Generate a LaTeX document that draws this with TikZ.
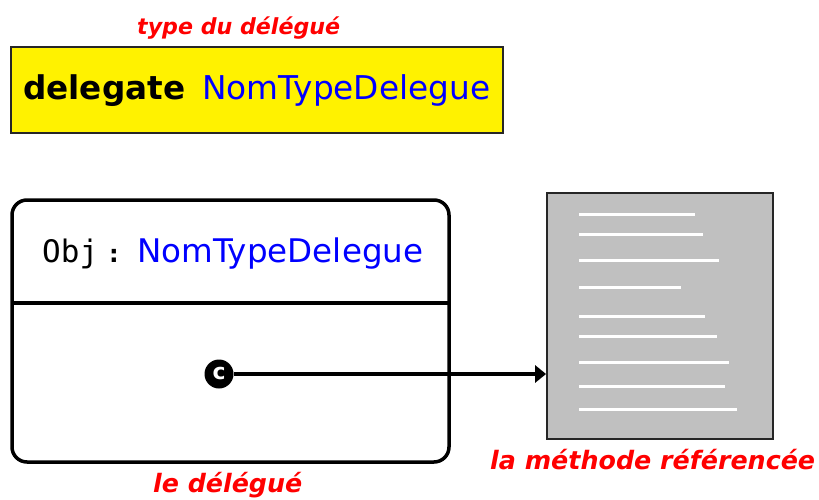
\documentclass[tikz,border=0pt]{standalone}
\usepackage{fontspec}
\usepackage{graphicx}
\setmainfont{DejaVu Sans}
\newfontfamily\monofam{DejaVu Sans Mono}
\usetikzlibrary{arrows.meta}
\definecolor{lblred}{RGB}{255,0,0}
\definecolor{kwblue}{RGB}{0,0,255}
\definecolor{boxgray}{RGB}{192,192,192}
\newcommand\fitw[2]{\resizebox{#1pt}{!}{#2}}
\tikzset{
  lbl/.style={inner sep=0pt, text=lblred, font=\bfseries\itshape},
  wline/.style={draw=white, line width=3pt},
}
\begin{document}
\begin{tikzpicture}[x=1pt,y=-1pt]
\useasboundingbox (0,0) rectangle (819,500);
% type box
\node[lbl, anchor=base west] (typelbl) at (137,35) {\fitw{203}{type du délégué}};
\draw[fill=yellow, draw=black!85, line width=1.8pt] (11,47) rectangle (503,133);
\node[inner sep=0pt, anchor=base west] (kw) at (23,100) {\fitw{162}{\textbf{delegate}}};
\node[inner sep=0pt, anchor=base west, text=kwblue] (typedecl) at (202,100) {\fitw{288}{NomTypeDelegue}};
% object box
\draw[line width=3.5pt, rounded corners=15pt] (12,200) rectangle (449,462);
\coordinate (divl) at (12,303);
\coordinate (divr) at (449,303);
\draw[line width=3.5pt] (divl) -- (divr);
\node[inner sep=0pt, anchor=base west] (objlbl) at (42,262) {\fitw{56}{\monofam Obj}};
\node[inner sep=0pt, anchor=base, font=\fontsize{24}{24}\selectfont\bfseries] (colon) at (114,262) {:};
\node[inner sep=0pt, anchor=base west, text=kwblue] (objtype) at (137,262) {\fitw{286}{NomTypeDelegue}};
\node[lbl, anchor=base west] (dellbl) at (153,492) {\fitw{149}{le délégué}};
% method box
\node[draw=black!85, line width=1.8pt, fill=boxgray, minimum width=226pt, minimum height=246pt, inner sep=0pt] (meth) at (660,316) {};
\foreach \y/\e in {214/695,234/703,260/719,287/681,316/705,336/717,362/729,386/725,409/737}{
  \draw[wline] (579,\y) -- (\e,\y);
}
\node[lbl, anchor=base west] (methlbl) at (490,469) {\fitw{325}{la méthode référencée}};
% pointer
\node[circle, fill=black, minimum size=29pt, inner sep=0pt, text=white, font=\bfseries] (ptr) at (219,374) {\fitw{13}{c}};
\draw[line width=4.5pt, -{Triangle[length=11pt,width=17pt]}] (ptr) -- (meth.west |- ptr);
\end{tikzpicture}
\end{document}
